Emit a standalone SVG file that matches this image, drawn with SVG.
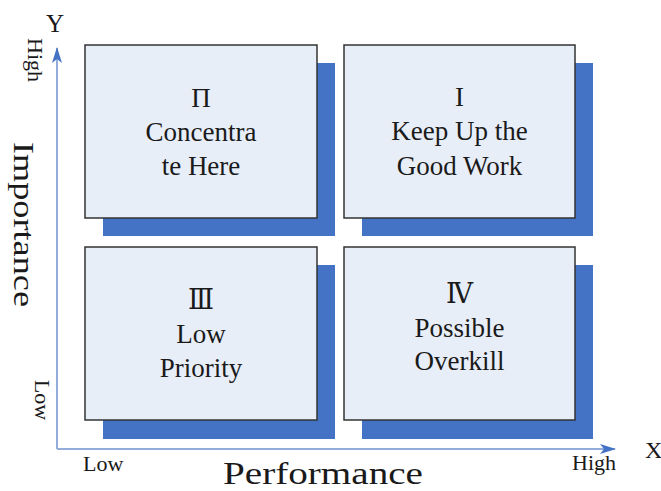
<svg xmlns="http://www.w3.org/2000/svg" width="661" height="491" viewBox="0 0 661 491">
<style>
  text { font-family: "Liberation Serif", "DejaVu Serif", "Noto Serif", serif; fill: #1a1a1a; }
  .shadow { fill: #4472c4; }
  .box { fill: #e8eef8; stroke: #333; stroke-width: 1.5; }
  .lbl { font-size: 27px; text-anchor: middle; }
  .axis { stroke: #93acd9; stroke-width: 2; fill: none; }
  .small { font-size: 22px; }
</style>
<defs>
  <marker id="arr" viewBox="0 0 16 10" refX="15" refY="5" markerWidth="16" markerHeight="10" markerUnits="userSpaceOnUse" orient="auto">
    <path d="M0,0 L16,5 L0,10 L4,5 Z" fill="#4472c4"/>
  </marker>
</defs>
<rect width="661" height="491" fill="#ffffff"/>

<g id="connectors">
  <path class="axis" d="M57,449 L57,48" marker-end="url(#arr)"/>
  <path class="axis" d="M57,449 L615,449" marker-end="url(#arr)"/>
</g>

<g id="quadrant-II">
  <rect class="shadow" x="103" y="63" width="232" height="173"/>
  <rect class="box" x="85" y="45" width="232" height="173"/>
  <text class="lbl" x="201" y="107">Π</text>
  <text class="lbl" x="201" y="141">Concentra</text>
  <text class="lbl" x="201" y="175">te Here</text>
</g>

<g id="quadrant-I">
  <rect class="shadow" x="362" y="63" width="231" height="173"/>
  <rect class="box" x="344" y="45" width="231" height="173"/>
  <text class="lbl" x="459.5" y="106">I</text>
  <text class="lbl" x="459.5" y="140">Keep Up the</text>
  <text class="lbl" x="459.5" y="175">Good Work</text>
</g>

<g id="quadrant-III">
  <rect class="shadow" x="103" y="265" width="232" height="174"/>
  <rect class="box" x="85" y="247" width="232" height="173"/>
  <text class="lbl" x="201" y="309">Ⅲ</text>
  <text class="lbl" x="201" y="343">Low</text>
  <text class="lbl" x="201" y="377">Priority</text>
</g>

<g id="quadrant-IV">
  <rect class="shadow" x="362" y="265" width="231" height="174"/>
  <rect class="box" x="344" y="247" width="231" height="173"/>
  <text class="lbl" x="459.5" y="303">Ⅳ</text>
  <text class="lbl" x="459.5" y="337">Possible</text>
  <text class="lbl" x="459.5" y="370">Overkill</text>
</g>

<g id="axis-labels">
  <text x="55" y="32" font-size="25" text-anchor="middle">Y</text>
  <text x="645" y="458" font-size="24">X</text>
  <text class="small" transform="translate(28,60) rotate(90)" text-anchor="middle">High</text>
  <text class="small" transform="translate(35,400) rotate(90)" text-anchor="middle">Low</text>
  <text transform="translate(14,224.5) rotate(90)" font-size="30" text-anchor="middle" textLength="165" lengthAdjust="spacingAndGlyphs">Importance</text>
  <text class="small" x="83" y="471">Low</text>
  <text class="small" x="572" y="470">High</text>
  <text x="323" y="484" font-size="32" text-anchor="middle" textLength="200" lengthAdjust="spacingAndGlyphs">Performance</text>
</g>
</svg>
